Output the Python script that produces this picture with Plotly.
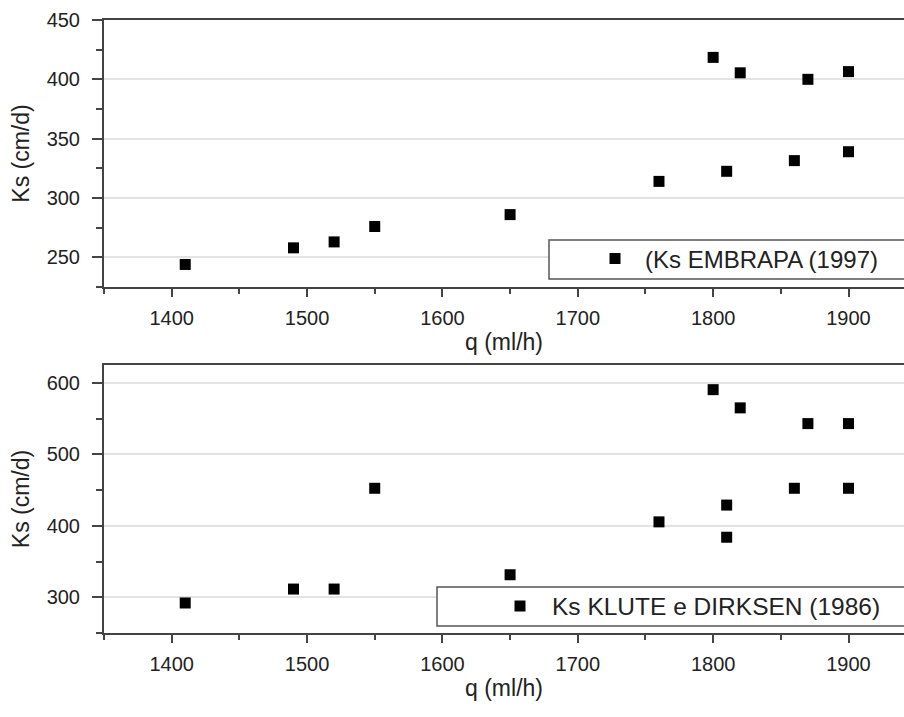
import plotly.graph_objects as go

# Data
q_embrapa = [1410, 1490, 1520, 1550, 1650, 1760, 1810, 1860, 1900, 1800, 1820, 1870, 1900]
ks_embrapa = [244, 258, 263, 276, 286, 314, 322.5, 331.5, 339, 418.5, 405.5, 400, 406.5]

q_klute = [1410, 1490, 1520, 1550, 1650, 1760, 1810, 1810, 1860, 1900, 1800, 1820, 1870, 1900]
ks_klute = [292, 311.5, 311.5, 452.5, 331.5, 405.5, 429, 384, 452.5, 452.5, 590.5, 565, 543, 543]

name_top = "(Ks EMBRAPA (1997)"
name_bottom = "Ks KLUTE e DIRKSEN (1986)"
x_title = "q (ml/h)"
y_title = "Ks (cm/d)"

FONT = "Liberation Sans, Arial, sans-serif"
TXT = "#222222"
AX = "#444444"
GRID = "#e3e3e3"

fig = go.Figure()
fig.add_trace(go.Scatter(x=q_embrapa, y=ks_embrapa, mode="markers", name=name_top,
                         marker=dict(symbol="square", size=11, color="black"),
                         xaxis="x", yaxis="y", legend="legend"))
fig.add_trace(go.Scatter(x=q_klute, y=ks_klute, mode="markers", name=name_bottom,
                         marker=dict(symbol="square", size=11, color="black"),
                         xaxis="x2", yaxis="y2", legend="legend2"))

W, H = 904, 717
# pixel targets
PL, PR, PT, PB = 104, 904, 20, 633
ml = PL
mr = W - PR
mt = PT
mb = H - PB
ph = H - mt - mb
pw = W - ml - mr
def py(p):  # pixel y -> paper
    return (PB - p) / ph
def px(p):
    return (p - PL) / pw

top_dom = [py(287), 1.0]
bot_dom = [0.0, py(365)]

xcommon = dict(range=[1350, 1941], dtick=100, tick0=1400, ticks="outside", ticklen=8,
               tickwidth=1.5, tickcolor=AX, showline=True, linecolor=AX, linewidth=2,
               mirror=True, showgrid=False, zeroline=False, automargin=False,
               minor=dict(dtick=50, tick0=1350, ticks="outside", ticklen=5, tickwidth=1.5, tickcolor=AX),
               tickfont=dict(family=FONT, size=20, color=TXT),
               title=dict(text=x_title, font=dict(family=FONT, size=23, color=TXT), standoff=6),
               ticklabelstandoff=4)
ycommon = dict(ticks="outside", ticklen=10, tickwidth=1.5, tickcolor=AX, showline=True,
               linecolor=AX, linewidth=2, mirror=False, showgrid=True, gridcolor=GRID,
               gridwidth=1.5, zeroline=False, automargin=False,
               tickfont=dict(family=FONT, size=20, color=TXT),
               title=dict(text=y_title, font=dict(family=FONT, size=23, color=TXT), standoff=11),
               ticklabelstandoff=8)

fig.update_layout(
    width=W, height=H,
    margin=dict(l=ml, r=mr, t=mt, b=mb, autoexpand=False),
    paper_bgcolor="white", plot_bgcolor="white",
    showlegend=True,
    xaxis=dict(domain=[0, 1], anchor="y", **xcommon),
    yaxis=dict(domain=top_dom, anchor="x", range=[225, 450], dtick=50, tick0=250,
               minor=dict(dtick=25, tick0=225, ticks="outside", ticklen=6, tickwidth=1.5, tickcolor=AX),
               **ycommon),
    xaxis2=dict(domain=[0, 1], anchor="y2", **xcommon),
    yaxis2=dict(domain=bot_dom, anchor="x2", range=[250, 625], dtick=100, tick0=300,
                minor=dict(dtick=50, tick0=250, ticks="outside", ticklen=6, tickwidth=1.5, tickcolor=AX),
                **ycommon),
    legend=dict(x=px(585), y=py(259), xanchor="left", yanchor="middle",
                bgcolor="rgba(0,0,0,0)", borderwidth=0, itemwidth=50,
                font=dict(family=FONT, size=24, color=TXT)),
    legend2=dict(x=px(488), y=py(606), xanchor="left", yanchor="middle",
                 bgcolor="rgba(0,0,0,0)", borderwidth=0, itemwidth=54,
                 font=dict(family=FONT, size=24.5, color=TXT)),
    shapes=[
        dict(type="rect", xref="paper", yref="paper", x0=px(549), x1=px(912), y0=py(279), y1=py(240),
             line=dict(color="#555555", width=1.5), fillcolor="white", layer="above"),
        dict(type="rect", xref="paper", yref="paper", x0=px(437), x1=px(912), y0=py(626), y1=py(587),
             line=dict(color="#555555", width=1.5), fillcolor="white", layer="above"),
    ],
)

fig.write_html("out.html",
               config={"displayModeBar": False},
               post_script="document.body.style.margin='0';document.body.style.overflow='hidden';")
